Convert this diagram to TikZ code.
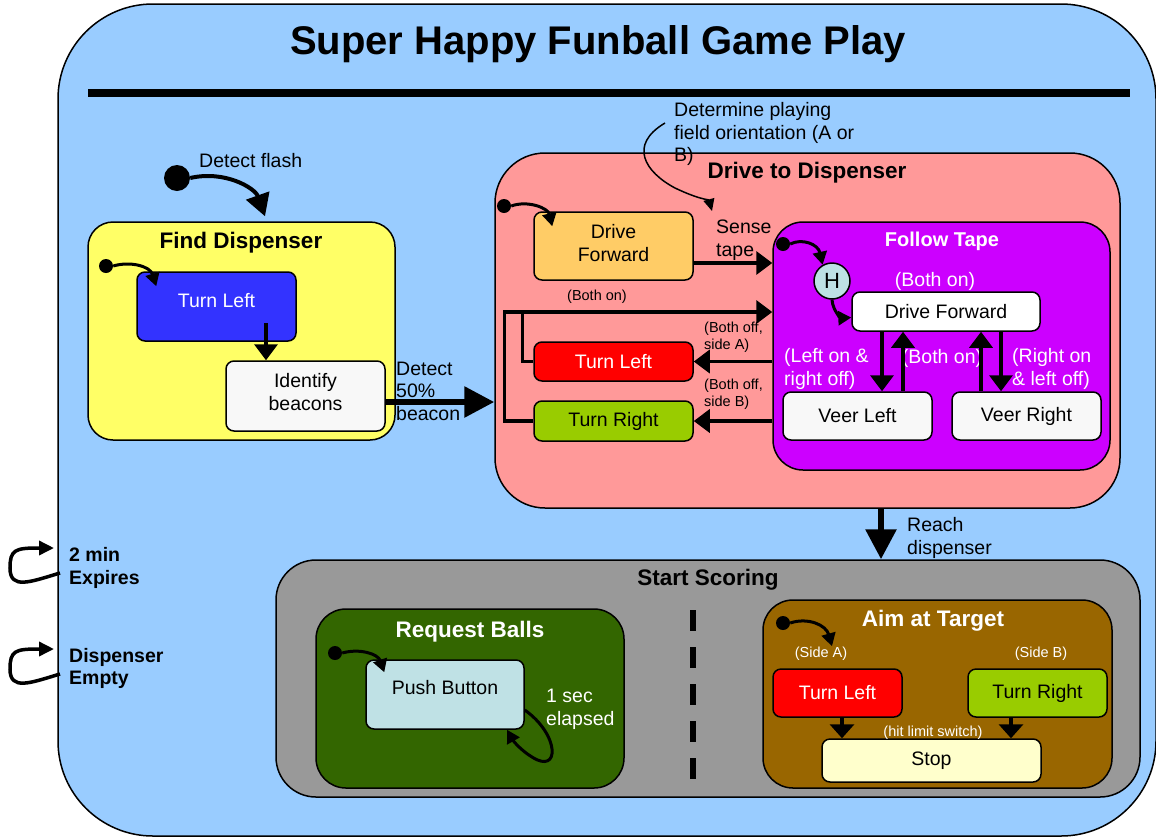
\documentclass[tikz,border=0pt]{standalone}
\usepackage{fontspec}
\setmainfont{Liberation Sans}
\usetikzlibrary{arrows.meta,calc}
\definecolor{bgblue}{HTML}{99CCFF}
\definecolor{fdyellow}{HTML}{FFFF66}
\definecolor{tlblue}{HTML}{3333FF}
\definecolor{idwhite}{HTML}{F8F8F8}
\definecolor{dtdpink}{HTML}{FF9999}
\definecolor{dforange}{HTML}{FFCC66}
\definecolor{ftpurple}{HTML}{CC00FF}
\definecolor{hcyan}{HTML}{BDE1E4}
\definecolor{tlred}{HTML}{FF0000}
\definecolor{trgreen}{HTML}{99CC00}
\definecolor{ssgray}{HTML}{999999}
\definecolor{rbgreen}{HTML}{336600}
\definecolor{pbcyan}{HTML}{BFE1E5}
\definecolor{aimbrown}{HTML}{996600}
\definecolor{stopyellow}{HTML}{FFFFCC}
\newcommand\fnorm{\fontsize{19.5}{22.5}\selectfont}
\newcommand\fsmall{\fontsize{14.5}{17}\selectfont}
\newcommand\ftitle{\fontsize{22.5}{26}\selectfont\bfseries}
\newcommand\fbig{\fontsize{40}{46}\selectfont\bfseries}
\begin{document}
\begin{tikzpicture}[x=1pt,y=-1pt,
  box/.style={draw=black, line width=1.5pt, rounded corners=8pt, inner sep=0pt, align=center, font=\fnorm},
  txt/.style={inner sep=0pt, align=left, font=\fnorm},
  stxt/.style={inner sep=0pt, align=left, font=\fsmall},
  ttl/.style={inner sep=0pt, font=\ftitle},
  dot/.style={circle, fill=black, inner sep=0pt},
  initsm/.style={line width=3pt, -{Triangle[length=13pt,width=14pt]}},
  initbig/.style={line width=4pt, -{Triangle[length=22pt,width=24pt]}},
  conn/.style={line width=3.5pt, -{Triangle[length=16pt,width=23pt]}},
  connsm/.style={line width=3.5pt, -{Triangle[length=14pt,width=24pt]}},
  heavy/.style={line width=6pt, -{Triangle[length=30pt,width=30pt]}},
  plain/.style={line width=3.5pt},
  anno/.style={line width=1.5pt, -{Triangle[length=12pt,width=11pt]}},
  loopy/.style={line width=3.5pt, -{Triangle[length=15pt,width=14pt]}},
]
\useasboundingbox (0,0) rectangle (1156,836);

% outer state
\node[box, fill=bgblue, rounded corners=95pt, minimum width=1098pt, minimum height=832pt] (outer) at (607,420) {};
\node[inner sep=0pt, font=\fbig] (title) at (598,44) {Super Happy Funball Game Play};
\draw[line width=8pt] (88,93) coordinate (rl) -- (1130,93) coordinate (rr);

% Find Dispenser
\node[box, fill=fdyellow, rounded corners=25pt, minimum width=307pt, minimum height=218pt] (fd) at (241.5,331) {};
\node[ttl] (fdT) at (241,243) {Find Dispenser};
\node[box, fill=tlblue, minimum width=159pt, minimum height=69pt,
      label={[font=\fnorm, text=white, yshift=6pt]center:Turn Left}] (ftl) at (216.5,306.5) {};
\node[box, fill=idwhite, minimum width=159pt, minimum height=70pt,
      label={[font=\fnorm, align=center, yshift=4pt]center:Identify\\beacons}] (fid) at (305.5,396) {};

\node[dot, minimum size=26pt] (d0) at (177,178) {};
\node[txt, anchor=west] (flash) at (199,161) {Detect flash};
\draw[initbig] (d0.east) .. controls (225,170) and (255,188) .. ([xshift=23.5pt,yshift=5pt]fd.north);
\node[dot, minimum size=14pt] (d1) at (106,266) {};
\draw[initsm] (d1.east) .. controls (130,261) and (150,266) .. ([xshift=20pt,yshift=-15pt]ftl.north west);
\draw[conn] ([xshift=49.5pt,yshift=19pt]ftl.south) -- ([xshift=49.5pt]ftl.south |- fid.north);

% Drive to Dispenser
\node[box, fill=dtdpink, rounded corners=50pt, minimum width=625pt, minimum height=355pt] (dtd) at (807.5,330.5) {};
\node[ttl] (dtdT) at (807,173) {Drive to Dispenser};
\node[txt, anchor=west] (det) at (674,134) {Determine playing\\field orientation (A or\\B)};
\node[box, fill=dforange, minimum width=159pt, minimum height=68pt,
      label={[font=\fnorm, align=center, yshift=3pt]center:Drive\\Forward}] (dfo) at (613.5,246) {};
\node[box, fill=tlred, text=white, minimum width=159pt, minimum height=39pt] (tlr) at (613.5,361.5) {Turn Left};
\node[box, fill=trgreen, minimum width=159pt, minimum height=40pt] (trg) at (613.5,421) {Turn Right};
\node[txt, anchor=west] (sense) at (716,240) {Sense\\tape};
\node[stxt, anchor=west] (bofa) at (704,337.5) {(Both off,\\side A)};
\node[stxt, anchor=west] (bofb) at (704,394.5) {(Both off,\\side B)};
\node[stxt] (bon1) at (597,297) {(Both on)};
\node[dot, minimum size=14pt] (d2) at (504,206) {};

% Follow Tape
\node[box, fill=ftpurple, rounded corners=30pt, minimum width=337pt, minimum height=248pt] (ft) at (941.5,346) {};
\node[ttl, font=\fontsize{20}{24}\selectfont\bfseries, text=white] (ftT) at (942,241) {Follow Tape};
\node[circle, draw=black, line width=1.5pt, fill=hcyan, inner sep=0pt, minimum size=36pt, font=\fontsize{22}{24}\selectfont] (h) at (832,281) {H};
\node[box, fill=white, minimum width=188pt, minimum height=39pt] (dfi) at (946,311.5) {Drive Forward};
\node[box, fill=idwhite, minimum width=149pt, minimum height=48pt] (vl) at (857.5,416) {Veer Left};
\node[box, fill=idwhite, minimum width=149pt, minimum height=48pt] (vr) at (1026.5,416) {Veer Right};
\node[txt, text=white] (bon2) at (935,281) {(Both on)};
\node[txt, text=white] (bon3) at (942,358) {(Both on)};
\node[txt, text=white, anchor=west] (lor) at (784,369) {(Left on \&\\right off)};
\node[txt, text=white, anchor=west] (rol) at (1012,369) {(Right on\\\& left off)};
\node[dot, minimum size=14pt] (d3) at (783,244) {};

% Drive to Dispenser connectors
\draw[initsm] (d2.east) .. controls (528,200) and (548,208) .. ([xshift=19pt,yshift=-15pt]dfo.north west);
\coordinate (annS) at (665,123);
\coordinate (annE) at (712,211);
\draw[anno] (annS) .. controls (628,145) and (645,172) .. (675,188) .. controls (698,199) and (709,200) .. (annE);
\draw[conn] ([yshift=-17pt]dfo.east) -- ([yshift=-17pt]dfo.east -| ft.west);
\draw[conn] (ft.west |- tlr.east) -- (tlr.east);
\draw[conn] (ft.west |- trg.east) -- (trg.east);
\draw[conn] (tlr.west) -- ++(-11,0) coordinate (jl) |- ([yshift=34pt]ft.west) coordinate (jt);
\draw[plain] (trg.west) -- ++(-29,0) |- (jl |- jt);

% Follow Tape connectors
\draw[initsm] (d3.east) .. controls (802,238) and (818,244) .. (h.120);
\draw[initsm] (h.south) .. controls (833,312) and (842,318) .. ([yshift=-6pt]dfi.west);
\draw[conn] ([xshift=-64pt]dfi.south) -- ([xshift=-64pt]dfi.south |- vl.north);
\draw[conn] ([xshift=-43pt]dfi.south |- vl.north) -- ([xshift=-43pt]dfi.south);
\draw[conn] ([xshift=35pt]dfi.south |- vr.north) -- ([xshift=35pt]dfi.south);
\draw[conn] ([xshift=55pt]dfi.south) -- ([xshift=55pt]dfi.south |- vr.north);

% Start Scoring
\node[box, fill=ssgray, rounded corners=40pt, minimum width=864pt, minimum height=237pt] (ss) at (708,678.5) {};
\node[ttl] (ssT) at (708,580) {Start Scoring};
\draw[line width=5.5pt, dash pattern=on 21pt off 16pt] (693,610) coordinate (dsa) -- (693,780) coordinate (dsb);

\draw[heavy] ([yshift=-6pt]fid.east) -- ([yshift=-6pt]fid.east -| dtd.west);
\node[txt, anchor=west] (d50) at (396,391) {Detect\\50\%\\beacon};
\draw[heavy] ([xshift=73.5pt]dtd.south) -- ([xshift=73.5pt]dtd.south |- ss.north);
\node[txt, anchor=west] (reach) at (907,538) {Reach\\dispenser};

% Request Balls
\node[box, fill=rbgreen, rounded corners=30pt, minimum width=308pt, minimum height=179pt] (rb) at (470,698.5) {};
\node[ttl, text=white] (rbT) at (470,632) {Request Balls};
\node[box, fill=pbcyan, minimum width=158pt, minimum height=69pt,
      label={[font=\fnorm, yshift=7pt]center:Push Button}] (pb) at (445,694.5) {};
\node[dot, minimum size=14pt] (d4) at (335,653) {};
\draw[initsm] (d4.east) .. controls (360,648) and (378,654) .. ([xshift=19pt,yshift=-13pt]pb.north west);
\draw[initsm] ([yshift=-15.5pt]pb.east) .. controls (560,735) and (560,775) .. (532,757) .. controls (522,751) and (514,742) .. ([xshift=62pt]pb.south);
\node[txt, text=white, anchor=west] (sec) at (546,709.5) {1 sec\\elapsed};

% Aim at Target
\node[box, fill=aimbrown, rounded corners=30pt, minimum width=349pt, minimum height=188pt] (aim) at (937.5,694) {};
\node[ttl, text=white] (aimT) at (933,621) {Aim at Target};
\node[box, fill=tlred, text=white, minimum width=129pt, minimum height=48pt] (atl) at (837.5,693) {Turn Left};
\node[box, fill=trgreen, minimum width=139pt, minimum height=48pt] (atr) at (1037.5,693) {Turn Right};
\node[box, fill=stopyellow, minimum width=219pt, minimum height=43pt] (stop) at (931.5,760.5) {Stop};
\node[stxt, text=white] (sa) at (821,654) {(Side A)};
\node[stxt, text=white] (sb) at (1041,654) {(Side B)};
\node[dot, minimum size=14pt] (d5) at (783,623) {};
\draw[initsm] (d5.east) .. controls (808,617) and (826,625) .. ([xshift=-5.5pt,yshift=22pt]atl.north);
\draw[connsm] ([xshift=4.5pt]atl.south) -- ([xshift=4.5pt]atl.south |- stop.north);
\draw[connsm] ([xshift=-26.5pt]atr.south) -- ([xshift=-26.5pt]atr.south |- stop.north);
\node[stxt, text=white] (hit) at (933,733) {(hit limit switch)};

% outer self transitions
\node[txt, font=\fnorm\bfseries, anchor=west] (exp) at (69,568) {2 min\\Expires};
\node[txt, font=\fnorm\bfseries, anchor=west] (emp) at (69,668.5) {Dispenser\\Empty};
\coordinate (e1s) at (60,573);
\coordinate (e1e) at (54,548);
\coordinate (e2s) at (60,674);
\coordinate (e2e) at (54,649);
\draw[loopy] (e1s) .. controls (30,582) and (10,590) .. (10,568) .. controls (10,550) and (15,548) .. (38,548) -- (e1e);
\draw[loopy] (e2s) .. controls (30,683) and (10,691) .. (10,669) .. controls (10,651) and (15,649) .. (38,649) -- (e2e);
\end{tikzpicture}
\end{document}
